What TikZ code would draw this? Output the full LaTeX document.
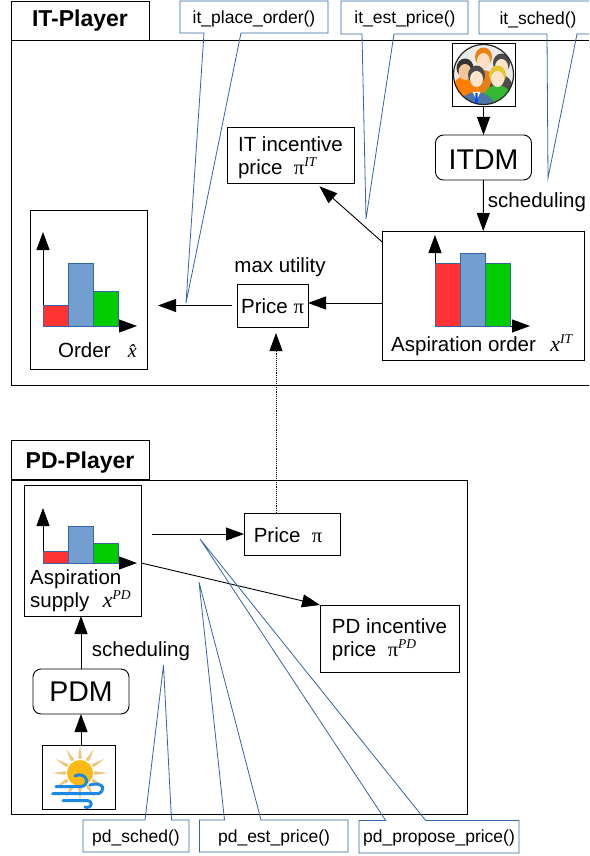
\documentclass[tikz,border=0pt]{standalone}
\usepackage{fontspec}
\setmainfont{Liberation Sans}
\newfontfamily\symfont{Liberation Serif}
\usetikzlibrary{arrows.meta}
\usetikzlibrary{calc}
\definecolor{barred}{HTML}{FF3333}
\definecolor{barblue}{HTML}{729FCF}
\definecolor{bargreen}{HTML}{00CC00}
\definecolor{fcnblue}{HTML}{3465A4}
\definecolor{sunyellow}{HTML}{FDB913}
\definecolor{sunray}{HTML}{EBC77E}
\definecolor{windblue}{HTML}{1E88E5}
\newcommand{\symsup}[1]{\raisebox{8pt}{\fontsize{13.5}{14}\selectfont\symfont\itshape #1}}
\newcommand{\sympi}{{\symfont π}}
\newcommand{\symx}{{\fontsize{22}{23}\selectfont\symfont\itshape x}}
\begin{document}
\begin{tikzpicture}[x=1pt,y=-1pt,>={Triangle[length=18pt,width=13pt]}]
\tikzstyle{box}=[rectangle,draw=black,fill=white,line width=0.9pt,inner sep=0pt,outer sep=0pt,
font=\fontsize{20.5}{23}\selectfont,align=left]
\tikzstyle{tab}=[box,minimum width=138,minimum height=39,font=\fontsize{23}{26}\selectfont\bfseries]
\tikzstyle{manager}=[box,rounded corners=8pt,minimum width=96,minimum height=45,font=\fontsize{28.5}{30}\selectfont]
\tikzstyle{lbl}=[inner sep=0pt,font=\fontsize{20.5}{23}\selectfont]
\tikzstyle{fcn}=[inner sep=0pt,font=\fontsize{17.5}{20}\selectfont]
\tikzstyle{fcnline}=[draw=fcnblue,line width=0.8pt,line join=miter]
\tikzstyle{bar}=[draw=fcnblue,line width=0.8pt]
\tikzstyle{arrow}=[->,line width=0.9pt]
\useasboundingbox (0,0) rectangle (589,856);
% players
\draw[line width=0.9pt] (589,40) -- (11,40) -- (11,385) -- (589,385);
\draw[line width=0.9pt] (11,480) rectangle (467,814);
\node[tab] (itplayer) at (80,20.5) {IT-Player};
\node[tab] (pdplayer) at (80,460) {\rule{0pt}{21pt}PD-Player};
% boxes
\node[box,minimum width=63,minimum height=63] (people) at (483.5,74.5) {};
\node[manager] (itdm) [below of=people,node distance=83pt] {\rule{0pt}{23pt}ITDM};
\node[box,minimum width=202,minimum height=129] (aspiration) at (483,295.5) {};
\node[box,minimum width=127,minimum height=56] (itinc) at (290.5,155)
{\rule{0pt}{21pt}IT incentive\\price~~\sympi\symsup{IT}};
\node[box,minimum width=71,minimum height=43] (itprice) at (272.5,305.5) {\rule{0pt}{17pt}Price~\sympi};
\node[box,minimum width=117,minimum height=159] (order) at (88.5,289.5) {};
\node[box,minimum width=117,minimum height=131] (supply) at (82.5,550.5) {};
\node[box,minimum width=96,minimum height=42] (pdprice) at (292,534) {\rule{0pt}{17pt}Price~~\sympi\hspace{8pt}};
\node[box,minimum width=139,minimum height=67] (pdinc) at (389.5,638.5)
{\rule{0pt}{17pt}PD incentive\\price~~\sympi\symsup{PD}};
\node[manager] (pdm) at (81,691.5) {PDM};
\node[box,minimum width=73,minimum height=64] (sun) at (78.75,777) {};
% labels
\node[lbl] (itsched) at (537,202) {scheduling};
\node[lbl] (maxutil) at (280,267) {max utility};
\node[lbl] (pdsched) at (141,651) {scheduling};
\node[lbl,anchor=west] (asporder) at (391,345) {Aspiration order~~\hspace{3pt}\symx\symsup{IT}};
\node[lbl,anchor=west] (ordername) at (58,350) {Order~~\hspace{6pt}{\fontsize{20}{23}\selectfont\symfont\itshape\^{x}}};
\node[lbl,anchor=north west,align=left] (supplyname) at (30,569) {Aspiration\\supply~~\hspace{2pt}\symx\symsup{PD}};
% charts
\foreach \ox/\oy/\ytop/\xend/\redtop/\bluetop/\greentop in
{435/326/235/530/263/253/263,43/326/232/137/305/263/291,43/563/508/137/551/526/543}{
\draw[arrow] (\ox,\oy) -- (\ox,\ytop);
\draw[arrow] (\ox,\oy) -- (\xend,\oy);
\draw[bar,fill=barred] (\ox,\redtop) rectangle (\ox+25,\oy);
\draw[bar,fill=barblue] (\ox+25,\bluetop) rectangle (\ox+50,\oy);
\draw[bar,fill=bargreen] (\ox+50,\greentop) rectangle (\ox+75,\oy);
}
% people icon
\begin{scope}
\clip (483.5,74.5) circle [radius=30];
\fill[black!8] (483.5,74.5) circle [radius=30];
\foreach \fx/\fy/\hc/\sk/\bc/\by/\brx/\bry in
{483.5/59/orange!70!brown/orange!25/orange!60!brown/90/14/20,
465/70/black!80/brown!45!orange!45/orange/98/15/22,
501.5/65/black!70/orange!20/black!70/95/13/20,
497.5/77/yellow!55!brown/orange!20/green!65!black!80/107/17/22,
476.5/77/black!70/orange!20/cyan!55!blue!70!black!90/112/20/20}{
\fill[\bc] (\fx,\by) ellipse [x radius=\brx,y radius=\bry];
\fill[\hc] (\fx,\fy-2) ellipse [x radius=8.5,y radius=9.5];
\fill[\sk] (\fx,\fy+2) ellipse [x radius=6.5,y radius=8];
}
\fill[white] (472.5,92) -- (480.5,92) -- (476.5,100) -- cycle;
\fill[blue!70!cyan] (475.5,93) -- (477.5,93) -- (478,104) -- (475,104) -- cycle;
\end{scope}
\draw[line width=1.2pt,black!85] (483.5,74.5) circle [radius=30];
% sun icon
\foreach \a in {0,30,...,330}{
\fill[sunray] ($(80,773)+(\a:14)$) -- ($(80,773)+(\a+7:15)$) -- ($(80,773)+(\a:28)$) -- ($(80,773)+(\a-7:15)$) -- cycle;
}
\fill[sunyellow] (80,773) circle [radius=13];
\draw[line width=3pt,color=windblue,line cap=round]
(56,786.7) -- (80,786.7) .. controls (85,786.7) and (87,783) .. (86.5,780) .. controls (86,776) and (80,773) .. (75,776)
(52.7,793.7) -- (97,793.7) .. controls (102,793.7) and (103,789) .. (102.5,787) .. controls (101,784) and (95,783) .. (90,785)
(63,800.7) -- (88,800.7) .. controls (92,801) and (92,806) .. (89,807) .. controls (88,807.5) and (86,807.5) .. (85,807);
% connectors
\draw[arrow] (people) -- (itdm);
\draw[arrow] (itdm) -- (aspiration);
\coordinate (pricein) at (308,303);
\draw[arrow] (pricein -| aspiration.west) -- (pricein);
\draw[arrow,shorten >=5pt] (aspiration.152) -- (itinc.-48);
\draw[arrow,shorten <=5pt,shorten >=11pt] (itprice.west) -- (itprice.west -| order.east);
\coordinate (dotstart) at (276,513);
\draw[arrow,densely dotted,shorten >=6pt] (dotstart) -- (dotstart |- itprice.south);
\draw[arrow,shorten <=11pt] (pdprice.west -| supply.east) -- (pdprice.west);
\draw[arrow] (supply.-12) -- (pdinc.north west);
\draw[arrow] (sun.north -| pdm) -- (pdm);
\draw[arrow] (pdm) -- (pdm |- supply.south);
% function callouts
\draw[fcnline] (180,1) -- (328,1) -- (328,33) -- (241,33) -- (186,303) -- (204,33) -- (180,33) -- cycle;
\node[fcn] (itplaceorder) at (254,19) {it\_place\_order()};
\draw[fcnline] (341,1) -- (468,1) -- (468,34) -- (394,34) -- (366,219) -- (362,34) -- (341,34) -- cycle;
\node[fcn] (itestprice) at (405,19) {it\_est\_price()};
\draw[fcnline] (589,1) -- (479,1) -- (479,34) -- (547,34) -- (548,178) -- (577,34) -- (589,34);
\node[fcn] (itschedfcn) at (538,20) {it\_sched()};
\draw[fcnline] (83,820) -- (145,820) -- (163.5,665) -- (171.5,820) -- (189,820) -- (189,852) -- (83,852) -- cycle;
\node[fcn] (pdschedfcn) at (136,838) {pd\_sched()};
\draw[fcnline] (199.5,820) -- (224.5,820) -- (199,582) -- (261,820) -- (348,820) -- (348,852) -- (199.5,852) -- cycle;
\node[fcn] (pdestprice) at (274,838) {pd\_est\_price()};
\draw[fcnline] (359,820.5) -- (385.7,820.5) -- (200,539) -- (425.7,820.5) -- (519,820.5) -- (519,853) -- (359,853) -- cycle;
\node[fcn] (pdproposeprice) at (439,838) {pd\_propose\_price()};
\end{tikzpicture}
\end{document}
